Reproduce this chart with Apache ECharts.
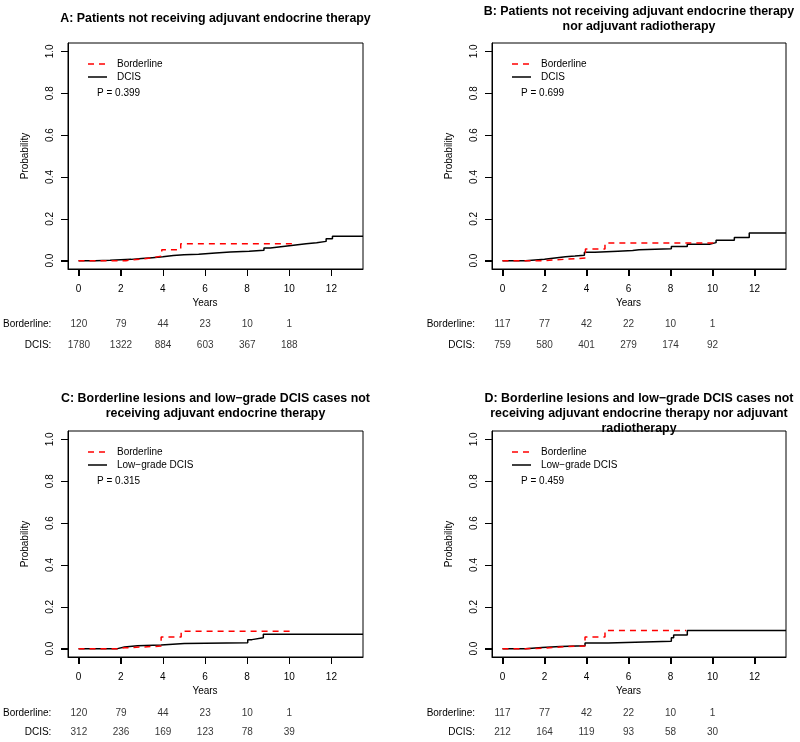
<!DOCTYPE html>
<html>
<head>
<meta charset="utf-8">
<script src="https://cdn.jsdelivr.net/npm/echarts@6/dist/echarts.min.js"></script>
<style>html,body{margin:0;padding:0;background:#fff}#c{width:800px;height:742px}</style>
</head>
<body>
<div id="c"></div>
<script>
// ---- data ----
const yearTicks = [0, 2, 4, 6, 8, 10, 12];
const probTicks = [0, 0.2, 0.4, 0.6, 0.8, 1.0];
const riskYears = [0, 2, 4, 6, 8, 10];

const titleA = 'A: Patients not receiving adjuvant endocrine therapy';
const titleB = 'B: Patients not receiving adjuvant endocrine therapy\nnor adjuvant radiotherapy';
const titleC = 'C: Borderline lesions and low\u2212grade DCIS cases not\nreceiving adjuvant endocrine therapy';
const titleD = 'D: Borderline lesions and low\u2212grade DCIS cases not\nreceiving adjuvant endocrine therapy nor adjuvant\nradiotherapy';

const pA = 'P = 0.399', pB = 'P = 0.699', pC = 'P = 0.315', pD = 'P = 0.459';

const borderA = [[0,0],[2.25,0.008],[3.0,0.015],[3.6,0.022],[3.95,0.052],[4.85,0.081],[10.15,0.081]];
const dcisA = [[0,0],[0.8,0.002],[1.5,0.004],[2.0,0.006],[2.5,0.01],[3.0,0.014],[3.5,0.018],[4.0,0.024],[4.5,0.028],[5.0,0.031],[5.7,0.037],[6.5,0.041],[7.2,0.045],[8.1,0.05],[8.8,0.06],[9.1,0.066],[9.6,0.072],[10.1,0.081],[10.8,0.085],[11.3,0.092],[11.75,0.105],[12.05,0.117],[13.5,0.117]];

const borderB = [[0,0],[2.0,0.006],[2.9,0.012],[3.95,0.055],[4.88,0.084],[10.1,0.084]];
const dcisB = [[0,0],[1.1,0.007],[2.0,0.013],[2.5,0.019],[3.0,0.022],[3.45,0.026],[3.9,0.04],[4.4,0.045],[5.5,0.048],[6.2,0.052],[6.5,0.057],[8.04,0.068],[8.8,0.078],[9.85,0.086],[10.17,0.097],[11.04,0.111],[11.75,0.132],[13.5,0.132]];

const borderC = [[0,0],[1.85,0.004],[2.2,0.012],[3.92,0.055],[4.87,0.083],[10.08,0.083]];
const lowC = [[0,0],[1.85,0.008],[2.18,0.014],[2.8,0.017],[3.92,0.025],[5.02,0.028],[8.03,0.043],[8.23,0.052],[8.77,0.069],[13.5,0.069]];

const borderD = [[0,0],[1.1,0.002],[1.88,0.008],[2.75,0.013],[3.93,0.056],[4.88,0.087],[8.75,0.087]];
const lowD = [[0,0],[1.1,0.005],[1.88,0.01],[2.75,0.014],[3.93,0.027],[5.03,0.035],[8.04,0.052],[8.15,0.065],[8.8,0.087],[13.5,0.087]];

const riskBorderA = [120, 79, 44, 23, 10, 1];
const riskDcisA = [1780, 1322, 884, 603, 367, 188];
const riskBorderB = [117, 77, 42, 22, 10, 1];
const riskDcisB = [759, 580, 401, 279, 174, 92];
const riskBorderC = [120, 79, 44, 23, 10, 1];
const riskDcisC = [312, 236, 169, 123, 78, 39];
const riskBorderD = [117, 77, 42, 22, 10, 1];
const riskDcisD = [212, 164, 119, 93, 58, 30];

const nameBorder = 'Borderline';
const nameDcis = 'DCIS';
const nameLow = 'Low\u2212grade DCIS';
const riskRows = ['DCIS', 'Borderline'];

// ---- layout ----
const FONT = 'Liberation Sans, Arial, Helvetica, sans-serif';
const X_MIN = -0.5, X_MAX = 13.5, Y_MIN = -0.04, Y_MAX = 1.04, TICK = 7;
const panels = [
  {title: titleA, titleTop: 11.5, p: pA, border: borderA, other: dcisA, otherName: nameDcis, rb: riskBorderA, rd: riskDcisA, left: 68, width: 295, top: 43, riskTop: 313.5, riskH: 42},
  {title: titleB, titleTop: 4, p: pB, border: borderB, other: dcisB, otherName: nameDcis, rb: riskBorderB, rd: riskDcisB, left: 492, width: 294, top: 43, riskTop: 313.5, riskH: 42},
  {title: titleC, titleTop: 391.5, p: pC, border: borderC, other: lowC, otherName: nameLow, rb: riskBorderC, rd: riskDcisC, left: 68, width: 295, top: 431, riskTop: 703, riskH: 40},
  {title: titleD, titleTop: 391.5, p: pD, border: borderD, other: lowD, otherName: nameLow, rb: riskBorderD, rd: riskDcisD, left: 492, width: 294, top: 431, riskTop: 703, riskH: 40}
];

const option = {
  animation: false,
  backgroundColor: '#fff',
  textStyle: {fontFamily: FONT},
  title: [], grid: [], xAxis: [], yAxis: [], series: [], graphic: []
};

panels.forEach((pn, i) => {
  const gMain = i * 2, gRisk = i * 2 + 1;
  option.title.push({
    text: pn.title, left: pn.left + pn.width / 2, top: pn.titleTop, textAlign: 'center', padding: 0,
    textStyle: {fontFamily: FONT, fontSize: 12.4, fontWeight: 'bold', color: '#000', lineHeight: 15}
  });
  option.grid.push({left: pn.left, top: pn.top, width: pn.width, height: 226, show: true, borderColor: '#000', borderWidth: 1, backgroundColor: 'transparent'});
  option.grid.push({left: pn.left, top: pn.riskTop, width: pn.width, height: pn.riskH, show: false});
  option.xAxis.push({
    type: 'value', gridIndex: gMain, min: X_MIN, max: X_MAX, position: 'bottom',
    name: 'Years', nameLocation: 'middle', nameGap: 29,
    nameTextStyle: {fontFamily: FONT, fontSize: 10, color: '#000', padding: [0, 21, 0, 0]},
    axisLine: {show: true, onZero: false, lineStyle: {color: '#000', width: 1}}, splitLine: {show: false},
    axisTick: {show: true, inside: false, length: TICK, customValues: yearTicks, lineStyle: {color: '#000', width: 1}},
    axisLabel: {show: true, customValues: yearTicks, margin: 15, fontFamily: FONT, fontSize: 10, color: '#000'}
  });
  option.xAxis.push({
    type: 'value', gridIndex: gRisk, min: X_MIN, max: X_MAX, show: false
  });
  option.yAxis.push({
    type: 'value', gridIndex: gMain, min: Y_MIN, max: Y_MAX, position: 'left',
    name: 'Probability', nameLocation: 'middle', nameGap: 38, nameRotate: 90,
    nameTextStyle: {fontFamily: FONT, fontSize: 10, color: '#000'},
    axisLine: {show: true, onZero: false, lineStyle: {color: '#000', width: 1}}, splitLine: {show: false},
    axisTick: {show: true, inside: false, length: TICK, customValues: probTicks, lineStyle: {color: '#000', width: 1}},
    axisLabel: {show: true, customValues: probTicks, rotate: 90, margin: 13, fontFamily: FONT, fontSize: 10, color: '#000',
      formatter: v => Number(v).toFixed(1)}
  });
  option.yAxis.push({
    type: 'category', gridIndex: gRisk, data: riskRows,
    axisLine: {show: false}, axisTick: {show: false}, splitLine: {show: false},
    axisLabel: {margin: 17, fontFamily: FONT, fontSize: 10, color: '#000', formatter: v => v + ':'}
  });
  // tick marks (outward), placed through the axis scales
  option.series.push({
    type: 'custom', xAxisIndex: gMain, yAxisIndex: gMain, silent: true, clip: false,
    data: yearTicks.map(v => [v]),
    renderItem: (params, api) => {
      const p = api.coord([api.value(0), Y_MIN]);
      const x = Math.round(p[0]) + 0.5, y = Math.round(p[1]);
      return {type: 'line', shape: {x1: x, y1: y, x2: x, y2: y + TICK}, style: {stroke: '#000', lineWidth: 1}};
    }
  });
  option.series.push({
    type: 'custom', xAxisIndex: gMain, yAxisIndex: gMain, silent: true, clip: false,
    data: probTicks.map(v => [v]),
    renderItem: (params, api) => {
      const p = api.coord([X_MIN, api.value(0)]);
      const x = Math.round(p[0]), y = Math.round(p[1]) + 0.5;
      return {type: 'line', shape: {x1: x, y1: y, x2: x - TICK, y2: y}, style: {stroke: '#000', lineWidth: 1}};
    }
  });
  option.series.push({
    name: nameBorder, type: 'line', step: 'end', xAxisIndex: gMain, yAxisIndex: gMain,
    data: pn.border, symbol: 'none', clip: true,
    lineStyle: {color: '#ff0000', width: 1.5, type: [6, 5]}, itemStyle: {color: '#ff0000'}, z: 3
  });
  option.series.push({
    name: pn.otherName, type: 'line', step: 'end', xAxisIndex: gMain, yAxisIndex: gMain,
    data: pn.other, symbol: 'none', clip: true,
    lineStyle: {color: '#000', width: 1.5, type: 'solid'}, itemStyle: {color: '#000'}, z: 2
  });
  const riskData = [];
  riskYears.forEach((y, k) => {
    riskData.push([y, 'Borderline', pn.rb[k]]);
    riskData.push([y, 'DCIS', pn.rd[k]]);
  });
  option.series.push({
    type: 'scatter', xAxisIndex: gRisk, yAxisIndex: gRisk, data: riskData,
    symbolSize: 1, itemStyle: {color: 'rgba(0,0,0,0)'}, silent: true,
    label: {show: true, position: 'inside', formatter: p => String(p.value[2]), fontFamily: FONT, fontSize: 10, color: '#000'}
  });
  // legend (key) drawn as line samples + text
  const lx = pn.left + 20, ly = pn.top + 21;
  option.graphic.push(
    {type: 'line', shape: {x1: lx, y1: ly, x2: lx + 19, y2: ly}, style: {stroke: '#ff0000', lineWidth: 1.5, lineDash: [6, 5]}},
    {type: 'text', x: lx + 29, y: ly, style: {text: nameBorder, font: '10px ' + FONT, fill: '#000', verticalAlign: 'middle'}},
    {type: 'line', shape: {x1: lx, y1: ly + 13, x2: lx + 19, y2: ly + 13}, style: {stroke: '#000', lineWidth: 1.5}},
    {type: 'text', x: lx + 29, y: ly + 13, style: {text: pn.otherName, font: '10px ' + FONT, fill: '#000', verticalAlign: 'middle'}},
    {type: 'text', x: pn.left + 29, y: pn.top + 50, style: {text: pn.p, font: '10px ' + FONT, fill: '#000', verticalAlign: 'middle'}}
  );
});

const chart = echarts.init(document.getElementById('c'), null, {renderer: 'canvas'});
chart.setOption(option);
</script>
</body>
</html>
